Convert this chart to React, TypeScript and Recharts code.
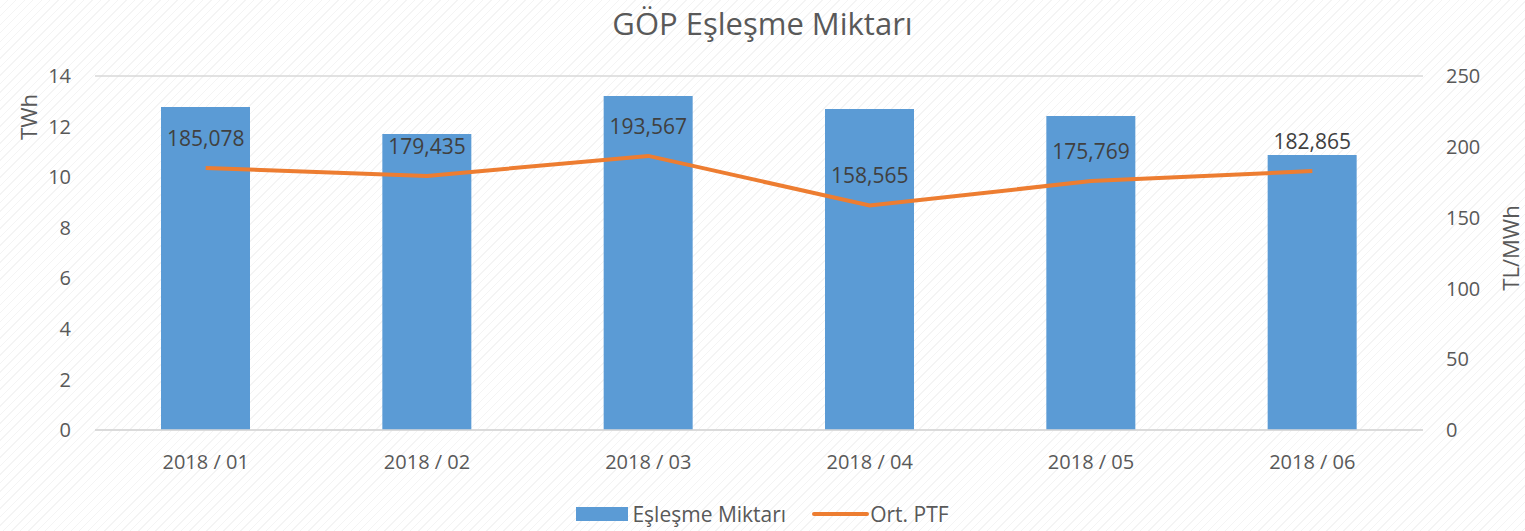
import { ComposedChart, Bar, Line, XAxis, YAxis, CartesianGrid, Legend, LabelList } from "recharts";

const months = ["2018 / 01", "2018 / 02", "2018 / 03", "2018 / 04", "2018 / 05", "2018 / 06"];
const eslesme = [12.77, 11.71, 13.21, 12.69, 12.42, 10.88];
const ptf = [185.078, 179.435, 193.567, 158.565, 175.769, 182.865];
const leftTicks = [0, 2, 4, 6, 8, 10, 12, 14];
const rightTicks = [0, 50, 100, 150, 200, 250];

const data = months.map((m, i) => ({ month: m, eslesme: eslesme[i], ptf: ptf[i] }));

const FONT = "'Open Sans', sans-serif";
const TEXT = "#595959";

function LegendBox() {
  return (
    <div style={{ display: "flex", justifyContent: "center", alignItems: "center", gap: 26, height: 40, paddingTop: 6, boxSizing: "border-box", fontFamily: FONT, fontSize: 21, color: TEXT }}>
      <span style={{ display: "flex", alignItems: "center" }}>
        <span style={{ width: 52, height: 14, background: "#5B9BD5", marginRight: 4 }} />
        Eşleşme Miktarı
      </span>
      <span style={{ display: "flex", alignItems: "center" }}>
        <span style={{ width: 57, height: 4, background: "#ED7D31", borderRadius: 2, marginRight: 1 }} />
        Ort. PTF
      </span>
    </div>
  );
}

export default function App() {
  return (
    <div
      style={{
        position: "relative",
        width: 1525,
        height: 531,
        background: "repeating-linear-gradient(135deg, #ffffff 0px, #ffffff 5px, #f4f4f4 5px, #f4f4f4 6px)",
      }}
    >
      <style>{"body{margin:0}"}</style>
      <div style={{ position: "absolute", top: 2, left: 0, width: 1525, textAlign: "center", fontFamily: FONT, fontSize: 31, color: TEXT }}>
        GÖP Eşleşme Miktarı
      </div>
      <ComposedChart width={1525} height={531} data={data} margin={{ top: 76, right: 0, bottom: 0, left: 0 }}>
        <CartesianGrid vertical={false} stroke="#d9d9d9" strokeWidth={1.5} />
        <XAxis
          dataKey="month"
          height={61}
          tickLine={false}
          axisLine={{ stroke: "#d9d9d9", strokeWidth: 1.5 }}
          tick={{ fill: TEXT, fontSize: 20, fontFamily: FONT }}
          tickMargin={19}
        />
        <YAxis
          yAxisId="left"
          width={95}
          domain={[0, 14]}
          ticks={leftTicks}
          tickLine={false}
          axisLine={false}
          tickSize={0}
          tickMargin={24}
          tick={{ fill: TEXT, fontSize: 20, fontFamily: FONT }}
          label={({ viewBox }: any) => (
            <text x={viewBox.x + 28} y={viewBox.y + 41} transform={`rotate(-90, ${viewBox.x + 28}, ${viewBox.y + 41})`} textAnchor="middle" dominantBaseline="central" fill={TEXT} fontSize={22} fontFamily={FONT}>
              TWh
            </text>
          )}
        />
        <YAxis
          yAxisId="right"
          orientation="right"
          width={102}
          domain={[0, 250]}
          ticks={rightTicks}
          tickLine={false}
          axisLine={false}
          tickSize={0}
          tickMargin={23}
          tick={{ fill: TEXT, fontSize: 20, fontFamily: FONT }}
          label={({ viewBox }: any) => (
            <text x={viewBox.x + 87} y={viewBox.y + 172} transform={`rotate(-90, ${viewBox.x + 87}, ${viewBox.y + 172})`} textAnchor="middle" dominantBaseline="central" fill={TEXT} fontSize={22} fontFamily={FONT}>
              TL/MWh
            </text>
          )}
        />
        <Bar yAxisId="left" dataKey="eslesme" name="Eşleşme Miktarı" fill="#5B9BD5" barSize={89} isAnimationActive={false} />
        <Line yAxisId="right" dataKey="ptf" name="Ort. PTF" type="linear" stroke="#ED7D31" strokeWidth={4} dot={false} isAnimationActive={false}>
          <LabelList
            dataKey="ptf"
            position="top"
            offset={22}
            fill="#404040"
            fontSize={21}
            fontFamily={FONT}
            formatter={(v: any) => Number(v).toFixed(3).replace(".", ",")}
          />
        </Line>
        <Legend verticalAlign="bottom" content={() => <LegendBox />} />
      </ComposedChart>
    </div>
  );
}
